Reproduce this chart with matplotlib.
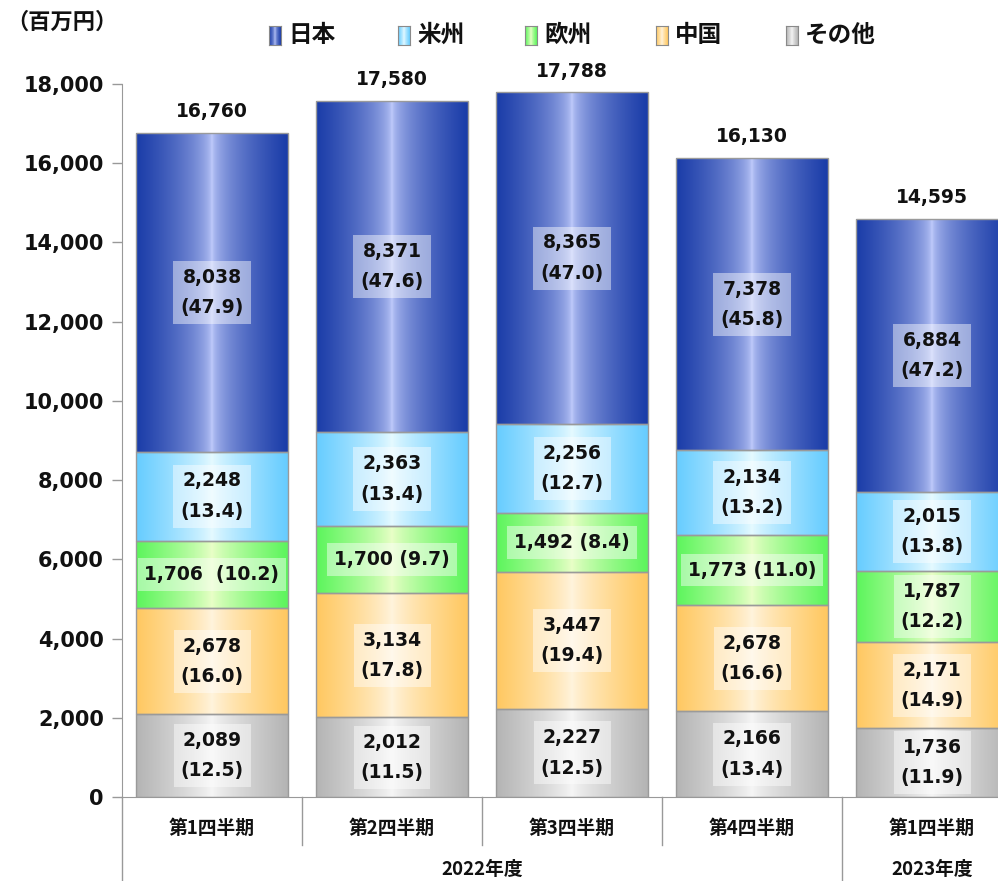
import numpy as np
import matplotlib
matplotlib.use("Agg")
import matplotlib.pyplot as plt
from matplotlib.patches import Rectangle
import matplotlib.transforms as mtransforms

plt.rcParams['font.family'] = ['DejaVu Sans', 'Noto Sans CJK JP']

quarters = ["第1四半期", "第2四半期", "第3四半期", "第4四半期", "第1四半期"]
years = ["2022年度", "2023年度"]
series_names = ["日本", "米州", "欧州", "中国", "その他"]

japan = [8038, 8371, 8365, 7378, 6884]
americas = [2248, 2363, 2256, 2134, 2015]
europe = [1706, 1700, 1492, 1773, 1787]
china = [2678, 3134, 3447, 2678, 2171]
other = [2089, 2012, 2227, 2166, 1736]
totals = [16760, 17580, 17788, 16130, 14595]

pct_japan = [47.9, 47.6, 47.0, 45.8, 47.2]
pct_americas = [13.4, 13.4, 12.7, 13.2, 13.8]
pct_europe = [10.2, 9.7, 8.4, 11.0, 12.2]
pct_china = [16.0, 17.8, 19.4, 16.6, 14.9]
pct_other = [12.5, 11.5, 12.5, 13.4, 11.9]

# stacking bottom -> top
stack = [
    ("その他", other, pct_other, "#b4b4b4", "#f6f6f6", 0.8),
    ("中国", china, pct_china, "#ffc860", "#fff4de", 0.8),
    ("欧州", europe, pct_europe, "#5cf55c", "#eaffc8", 0.8),
    ("米州", americas, pct_americas, "#66ccff", "#e6faff", 0.8),
    ("日本", japan, pct_japan, "#1a3ca8", "#c8d2ff", 0.5),
]


def hex2rgb(h):
    h = h.lstrip('#')
    return np.array([int(h[i:i + 2], 16) / 255 for i in (0, 2, 4)])


def grad(edge, center, p):
    x = np.linspace(0, 1, 256)
    t = np.abs(x - 0.5) * 2
    w = t ** p
    e, c = hex2rgb(edge), hex2rgb(center)
    cols = c[None, :] * (1 - w)[:, None] + e[None, :] * w[:, None]
    return cols[None, :, :]


W, H = 998, 881
fig = plt.figure(figsize=(W / 100, H / 100), dpi=100)
ax = fig.add_axes([122 / W, 1 - 797 / H, (998 - 122) / W, (797 - 84) / H])

xs = np.arange(len(quarters))
bw = 0.84
bottoms = np.zeros(len(quarters))
for name, vals, pcts, edge, center, p in stack:
    img = grad(edge, center, p)
    for i, x in enumerate(xs):
        b = bottoms[i]
        v = vals[i]
        im = ax.imshow(img, extent=[x - bw / 2, x + bw / 2, b, b + v + 40], aspect='auto',
                       interpolation='bilinear', zorder=2)
        clip = Rectangle((x - bw / 2, b), bw, v, transform=ax.transData)
        im.set_clip_path(clip)
        ax.add_patch(Rectangle((x - bw / 2, b), bw, v, fill=False,
                               edgecolor='#9a9a9a', lw=1.0, zorder=3))
        if name == "欧州" and i < 4:
            sep = "  " if i == 0 else " "
            label = f"{v:,}{sep}({pcts[i]:.1f})"
            ls = 1.0
        else:
            label = f"{v:,}\n({pcts[i]:.1f})"
            ls = 1.75
        ax.text(x, b + v / 2, label, ha='center', va='center', fontsize=13.5,
                fontweight='bold', color='#111111', linespacing=ls, zorder=5,
                bbox=dict(facecolor='white', alpha=0.45, edgecolor='none', pad=5))
    bottoms += np.array(vals)

for i, x in enumerate(xs):
    ax.text(x, totals[i] + 300, f"{totals[i]:,}", ha='center', va='bottom',
            fontsize=13.5, fontweight='bold', color='#111111', zorder=5)

ax.set_xlim(-0.5, 4.5 - 24 / 180)
ax.set_ylim(0, 18000)
ax.set_yticks(np.arange(0, 18001, 2000))
ax.set_yticklabels([f"{v:,}" for v in range(0, 18001, 2000)], fontsize=15,
                   fontweight='bold', color='#111111')
ax.tick_params(axis='y', length=7, width=1, color='#999999', pad=6)
ax.set_xticks([])
for s in ['top', 'right']:
    ax.spines[s].set_visible(False)
ax.spines['left'].set_color('#999999')
ax.spines['bottom'].set_color('#999999')

# category axis
trans = mtransforms.blended_transform_factory(ax.transData, ax.transAxes)
cjk = ['Noto Sans CJK JP', 'DejaVu Sans']
for i, x in enumerate(xs):
    ax.text(x, -0.044, quarters[i], transform=trans, ha='center', va='center',
            fontsize=13.5, fontweight='bold', family=cjk, color='#111111')
ax.text(1.5, -0.102, years[0], transform=trans, ha='center', va='center',
        fontsize=13.5, fontweight='bold', family=cjk, color='#111111')
ax.text(4.0, -0.102, years[1], transform=trans, ha='center', va='center',
        fontsize=13.5, fontweight='bold', family=cjk, color='#111111')
for xb, yb in [(-0.5, -0.118), (0.5, -0.067), (1.5, -0.067), (2.5, -0.067), (3.5, -0.118)]:
    ax.plot([xb, xb], [0, yb], transform=trans, color='#999999', lw=1, clip_on=False)

# unit label
fig.text(6 / W, 1 - 22 / H, "（百万円）", ha='left', va='center', fontsize=16,
         fontweight='bold', family=cjk, color='#111111')

# legend
leg_x = [269, 398, 525, 656, 786]
leg_order = ["日本", "米州", "欧州", "中国", "その他"]
info = {s[0]: s for s in stack}
for lx, nm in zip(leg_x, leg_order):
    _, _, _, edge, center, p = info[nm]
    lax = fig.add_axes([lx / W, 1 - 45 / H, 12 / W, 19 / H])
    lax.imshow(grad(edge, center, p), extent=[0, 1, 0, 1], aspect='auto')
    lax.set_xticks([]); lax.set_yticks([])
    for s in lax.spines.values():
        s.set_color('#8a8a8a')
    fig.text((lx + 19) / W, 1 - 35 / H, nm, ha='left', va='center', fontsize=17,
             fontweight='bold', family=cjk, color='#111111')

fig.savefig("out.png", dpi=100)
